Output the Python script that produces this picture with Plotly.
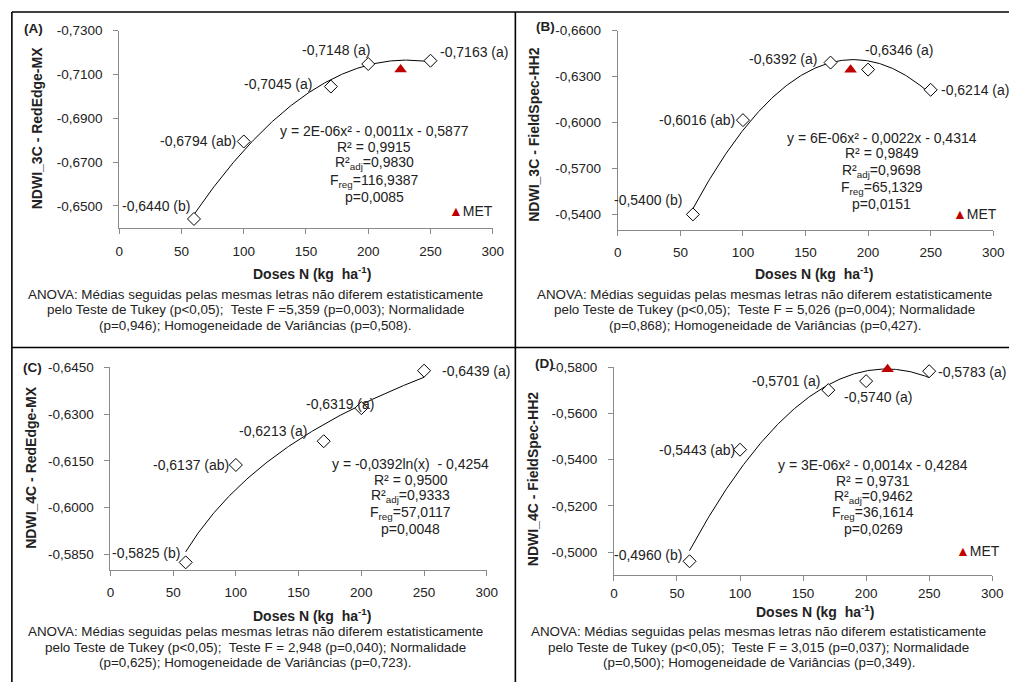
import numpy as np
import plotly.graph_objects as go

W, H = 1020, 682
FONT = "Liberation Sans, Arial, sans-serif"

# ---------------- data ----------------
doses = [60, 100, 170, 200, 250]
letters = ["b", "ab", "a", "a", "a"]

a_vals = [-0.6440, -0.6794, -0.7045, -0.7148, -0.7163]
b_vals = [-0.5400, -0.6016, -0.6392, -0.6346, -0.6214]
c_vals = [-0.5825, -0.6137, -0.6213, -0.6319, -0.6439]
d_vals = [-0.4960, -0.5443, -0.5701, -0.5740, -0.5783]

a_met = [226, -0.7123]
b_met = [186, -0.6345]
d_met = [217, -0.5791]

a_ticks = [-0.7300, -0.7100, -0.6900, -0.6700, -0.6500]
b_ticks = [-0.6600, -0.6300, -0.6000, -0.5700, -0.5400]
c_ticks = [-0.6450, -0.6300, -0.6150, -0.6000, -0.5850]
d_ticks = [-0.5800, -0.5600, -0.5400, -0.5200, -0.5000]
x_ticks = [0, 50, 100, 150, 200, 250, 300]

a_eq = ["y = 2E-06x² - 0,0011x - 0,5877", "R² = 0,9915", "R²<sub>adj</sub>=0,9830",
        "F<sub>reg</sub>=116,9387", "p=0,0085"]
b_eq = ["y = 6E-06x² - 0,0022x - 0,4314", "R² = 0,9849", "R²<sub>adj</sub>=0,9698",
        "F<sub>reg</sub>=65,1329", "p=0,0151"]
c_eq = ["y = -0,0392ln(x)  - 0,4254", "R² = 0,9500", "R²<sub>adj</sub>=0,9333",
        "F<sub>reg</sub>=57,0117", "p=0,0048"]
d_eq = ["y = 3E-06x² - 0,0014x - 0,4284", "R² = 0,9731", "R²<sub>adj</sub>=0,9462",
        "F<sub>reg</sub>=36,1614", "p=0,0269"]

anova_head = "ANOVA: Médias seguidas pelas mesmas letras não diferem estatisticamente"
a_anova = [anova_head, "pelo Teste de Tukey (p&lt;0,05);  Teste F =5,359 (p=0,003); Normalidade",
           "(p=0,946); Homogeneidade de Variâncias (p=0,508)."]
b_anova = [anova_head, "pelo Teste de Tukey (p&lt;0,05);  Teste F = 5,026 (p=0,004); Normalidade",
           "(p=0,868); Homogeneidade de Variâncias (p=0,427)."]
c_anova = [anova_head, "pelo Teste de Tukey (p&lt;0,05);  Teste F = 2,948 (p=0,040); Normalidade",
           "(p=0,625); Homogeneidade de Variâncias (p=0,723)."]
d_anova = [anova_head, "pelo Teste de Tukey (p&lt;0,05);  Teste F = 3,015 (p=0,037); Normalidade",
           "(p=0,500); Homogeneidade de Variâncias (p=0,349)."]

y_titles = ["NDWI_3C - RedEdge-MX", "NDWI_3C - FieldSpec-HH2",
            "NDWI_4C - RedEdge-MX", "NDWI_4C - FieldSpec-HH2"]
x_title = "Doses N (kg  ha<sup>-1</sup>)"

# ---------------- layout helpers ----------------
def fx(px):
    return px / W

def fy(py):
    return 1 - py / H

def fmt(v):
    return f"{v:.4f}".replace(".", ",")

panels = [
    dict(name="A", vals=a_vals, met=a_met, ticks=a_ticks, eq=a_eq, anova=a_anova, fit="poly",
         xdom=(117, 496), ydom=(24, 223), yrange=(-0.64, -0.73), xstand=6,
         lab=(30, 22), ytit=(33, 123), xtit=(313, 269), eqpos=(376, [125, 141, 158, 176, 192]),
         anpos=(255, [290, 306, 322]), metpos=(474, 206),
         offs=[("right", -2, 13), ("right", -6, 0), ("right", -17, 3), ("right", 4, 14), ("left", 8, 9)]),
    dict(name="B", vals=b_vals, met=b_met, ticks=b_ticks, eq=b_eq, anova=b_anova, fit="poly",
         xdom=(623, 1004), ydom=(24, 225), yrange=(-0.53, -0.66), xstand=5,
         lab=(550, 20), ytit=(538, 129), xtit=(822, 269), eqpos=(891, [132, 148, 166, 183, 199]),
         anpos=(772, [290, 306, 322]), metpos=(985, 209),
         offs=[("right", -9, 14), ("right", -6, 0), ("right", -12, 4), ("left", -5, 20), ("left", 8, 0)]),
    dict(name="C", vals=c_vals, met=None, ticks=c_ticks, eq=c_eq, anova=c_anova, fit="log",
         xdom=(108, 490), ydom=(364, 569), yrange=(-0.58, -0.645), xstand=5,
         lab=(29, 364), ytit=(28, 466), xtit=(313, 614), eqpos=(413, [462, 478, 494, 511, 527]),
         anpos=(255, [631, 647, 662]), metpos=None,
         offs=[("right", -4, 9), ("right", -5, 0), ("right", -15, 10), ("right", 15, 4), ("left", 16, 0)]),
    dict(name="D", vals=d_vals, met=d_met, ticks=d_ticks, eq=d_eq, anova=d_anova, fit="poly",
         xdom=(619, 1003), ydom=(364, 574), yrange=(-0.49, -0.58), xstand=1,
         lab=(549, 360), ytit=(537, 477), xtit=(823, 610), eqpos=(882, [463, 479, 495, 511, 527]),
         anpos=(766, [631, 647, 662]), metpos=(989, 550),
         offs=[("right", -6, 6), ("right", -3, 0), ("right", -6, 9), ("left", -24, -16), ("left", 7, -1)]),
]

fig = go.Figure()
annotations = []
layout_axes = {}

for i, p in enumerate(panels):
    n = i + 1
    xa = "x" if n == 1 else f"x{n}"
    ya = "y" if n == 1 else f"y{n}"
    xkey = "xaxis" if n == 1 else f"xaxis{n}"
    ykey = "yaxis" if n == 1 else f"yaxis{n}"

    # trendline fitted to the data
    xs = np.array(doses, dtype=float)
    ys = np.array(p["vals"], dtype=float)
    xc = np.linspace(min(doses), max(doses), 200)
    if p["fit"] == "poly":
        coef = np.polyfit(xs, ys, 2)
        yc = np.polyval(coef, xc)
    else:
        coef = np.polyfit(np.log(xs), ys, 1)
        yc = coef[0] * np.log(xc) + coef[1]
    fig.add_trace(go.Scatter(x=xc, y=yc, mode="lines", xaxis=xa, yaxis=ya,
                             line=dict(color="black", width=1), showlegend=False,
                             hoverinfo="skip", cliponaxis=False))
    fig.add_trace(go.Scatter(x=doses, y=p["vals"], mode="markers", xaxis=xa, yaxis=ya,
                             marker=dict(symbol="diamond", size=10, color="white",
                                         line=dict(color="black", width=1)),
                             showlegend=False, cliponaxis=False))
    if p["met"] is not None:
        fig.add_trace(go.Scatter(x=[p["met"][0]], y=[p["met"][1]], mode="markers",
                                 xaxis=xa, yaxis=ya, name="MET",
                                 marker=dict(symbol="triangle-up", size=11, color="#C00000"),
                                 showlegend=False, cliponaxis=False))

    layout_axes[xkey] = dict(domain=[fx(p["xdom"][0]), fx(p["xdom"][1])], range=[0, 300],
                             anchor=ya, tickvals=x_ticks, ticktext=[str(t) for t in x_ticks],
                             showgrid=False, zeroline=False, showline=True,
                             linecolor="#8a8a8a", linewidth=1, ticks="outside", ticklen=5,
                             tickcolor="#8a8a8a", ticklabelstandoff=p["xstand"],
                             tickfont=dict(family=FONT, size=13.5, color="#222"))
    layout_axes[ykey] = dict(domain=[fy(p["ydom"][1]), fy(p["ydom"][0])],
                             range=list(p["yrange"]), anchor=xa,
                             tickvals=p["ticks"], ticktext=[fmt(t) for t in p["ticks"]],
                             showgrid=False, zeroline=False, showline=True,
                             linecolor="#8a8a8a", linewidth=1, ticks="outside", ticklen=5,
                             tickcolor="#8a8a8a", ticklabelstandoff=8,
                             tickfont=dict(family=FONT, size=13.5, color="#222"))

    # data labels
    for d, v, l, (anc, dx, dy) in zip(doses, p["vals"], letters, p["offs"]):
        annotations.append(dict(x=d, y=v, xref=xa, yref=ya, text=f"{fmt(v)} ({l})",
                                showarrow=False, xanchor=anc, yanchor="middle",
                                xshift=dx, yshift=dy,
                                font=dict(family=FONT, size=14, color="#222")))

    # panel letter
    annotations.append(dict(x=fx(p["lab"][0]), y=fy(p["lab"][1]), xref="paper", yref="paper",
                            text=f"<b>({p['name']})</b>", showarrow=False,
                            xanchor="center", yanchor="middle",
                            font=dict(family=FONT, size=13.5, color="#222")))
    # y title
    annotations.append(dict(x=fx(p["ytit"][0]), y=fy(p["ytit"][1]), xref="paper", yref="paper",
                            text=f"<b>{y_titles[i]}</b>", showarrow=False, textangle=-90,
                            xanchor="center", yanchor="middle",
                            font=dict(family=FONT, size=14, color="#222")))
    # x title
    annotations.append(dict(x=fx(p["xtit"][0]), y=fy(p["xtit"][1]), xref="paper", yref="paper",
                            text=f"<b>{x_title}</b>", showarrow=False,
                            xanchor="center", yanchor="middle",
                            font=dict(family=FONT, size=14, color="#222")))
    # equation block
    ex, eys = p["eqpos"]
    for t, yy in zip(p["eq"], eys):
        annotations.append(dict(x=fx(ex), y=fy(yy), xref="paper", yref="paper", text=t,
                                showarrow=False, xanchor="center", yanchor="middle",
                                font=dict(family=FONT, size=14, color="#222")))
    # ANOVA lines
    ax_, ays = p["anpos"]
    for t, yy in zip(p["anova"], ays):
        annotations.append(dict(x=fx(ax_), y=fy(yy), xref="paper", yref="paper", text=t,
                                showarrow=False, xanchor="center", yanchor="middle",
                                font=dict(family=FONT, size=13.4, color="#222")))
    # MET legend
    if p["metpos"] is not None:
        annotations.append(dict(x=fx(p["metpos"][0]), y=fy(p["metpos"][1]), xref="paper",
                                yref="paper",
                                text="<span style='color:#C00000'>▲</span>MET",
                                showarrow=False, xanchor="center", yanchor="middle",
                                font=dict(family=FONT, size=14, color="#222")))

# cell borders
shapes = []
bw = 1.6
shapes.append(dict(type="line", xref="paper", yref="paper", x0=fx(8), x1=fx(8), y0=fy(5), y1=0,
                   line=dict(color="black", width=bw)))
shapes.append(dict(type="line", xref="paper", yref="paper", x0=fx(519), x1=fx(519), y0=fy(5), y1=0,
                   line=dict(color="black", width=bw)))
shapes.append(dict(type="line", xref="paper", yref="paper", x0=fx(8), x1=1, y0=fy(5), y1=fy(5),
                   line=dict(color="black", width=bw)))
shapes.append(dict(type="line", xref="paper", yref="paper", x0=fx(8), x1=1, y0=fy(344), y1=fy(344),
                   line=dict(color="black", width=bw)))

fig.update_layout(width=W, height=H, margin=dict(l=0, r=0, t=0, b=0),
                  paper_bgcolor="white", plot_bgcolor="white",
                  annotations=annotations, shapes=shapes, showlegend=False,
                  font=dict(family=FONT), **layout_axes)

fig.write_html("out.html")
